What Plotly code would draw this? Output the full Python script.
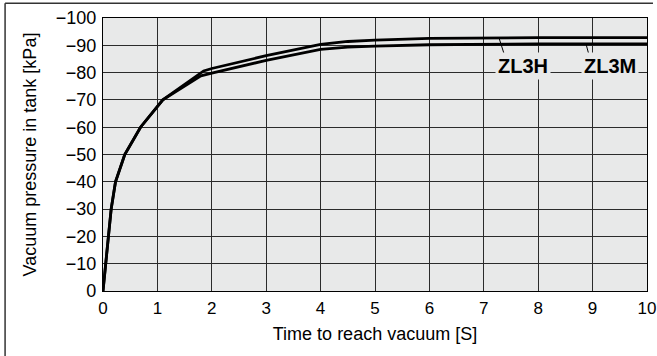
import plotly.graph_objects as go

# Shared initial evacuation (both models overlap up to ~1.1 s)
t_start = [0, 0.05, 0.10, 0.15, 0.23, 0.40, 0.69, 1.10]
p_start = [0, -10, -20, -30, -40, -50, -60, -70]

# ZL3H: reaches the deeper vacuum
t_zl3h = [1.85, 2, 3, 4, 4.5, 5, 6, 7, 8, 9, 10]
p_zl3h = [-80.6, -81.5, -86.2, -90.3, -91.4, -91.9, -92.5, -92.7, -92.8, -92.8, -92.8]

# ZL3M
t_zl3m = [1.80, 2, 3, 4, 4.5, 5, 6, 7, 8, 9, 10]
p_zl3m = [-78.8, -79.8, -84.5, -88.5, -89.3, -89.7, -90.2, -90.4, -90.5, -90.5, -90.5]

series_names = ["ZL3H", "ZL3M"]
label_x = [7.72, 9.32]
label_y = -82.3
# leader lines: point on the curve -> top edge of the label
leader_from = [(7.28, -92.7), (8.88, -90.4)]
leader_to = [(7.38, -86.4), (8.94, -86.0)]

x_ticks = list(range(0, 11))
y_ticks = list(range(-100, 1, 10))

PLOT_BG = "#e8e9e9"
GRID = "#2b2b2b"
FONT = "Liberation Sans, Arial, Helvetica, sans-serif"

fig = go.Figure()
for t_tail, p_tail, name in [(t_zl3h, p_zl3h, "ZL3H"), (t_zl3m, p_zl3m, "ZL3M")]:
    fig.add_trace(go.Scatter(
        x=t_start + t_tail, y=p_start + p_tail, mode="lines", name=name,
        line=dict(color="black", width=2.8), showlegend=False,
    ))

for name, lx, (fx, fy), (tx, ty) in zip(series_names, label_x, leader_from, leader_to):
    fig.add_shape(type="line", x0=fx, y0=fy, x1=tx, y1=ty,
                  line=dict(color="black", width=1), layer="above")
    fig.add_annotation(x=lx, y=label_y, text=f"<b>{name}</b>", showarrow=False,
                       font=dict(family=FONT, size=20, color="black"),
                       bgcolor=PLOT_BG, borderpad=2)

# open outer frame (top and left edges)
fig.add_shape(type="line", xref="paper", yref="paper", x0=-0.180, x1=1.011,
              y0=1.0538, y1=1.0538, line=dict(color="#333", width=1.5))
fig.add_shape(type="line", xref="paper", yref="paper", x0=-0.180, x1=-0.180,
              y0=1.0538, y1=-0.25, line=dict(color="#333", width=1.5))

axis_common = dict(showgrid=True, gridcolor=GRID, gridwidth=1.2, showline=True,
                   linecolor="black", linewidth=1.2, mirror=True, zeroline=False,
                   automargin=False, ticks="",
                   title_font=dict(family=FONT, size=18, color="black"))

fig.update_xaxes(range=[0, 10], tickvals=x_ticks,
                 tickfont=dict(family=FONT, size=17, color="black"),
                 title_text="Time to reach vacuum [S]", title_standoff=10,
                 ticklabelstandoff=1, **axis_common)
fig.update_yaxes(range=[0, -100], tickvals=y_ticks,
                 tickfont=dict(family=FONT, size=18, color="black"),
                 title_text="Vacuum pressure in tank [kPa]", title_standoff=14,
                 ticklabelstandoff=2, **axis_common)

fig.update_layout(
    width=657, height=356,
    margin=dict(l=103, r=10, t=18, b=65, pad=0),
    plot_bgcolor=PLOT_BG, paper_bgcolor="white",
    font=dict(family=FONT, color="black"),
)

fig.write_html("out.html")
